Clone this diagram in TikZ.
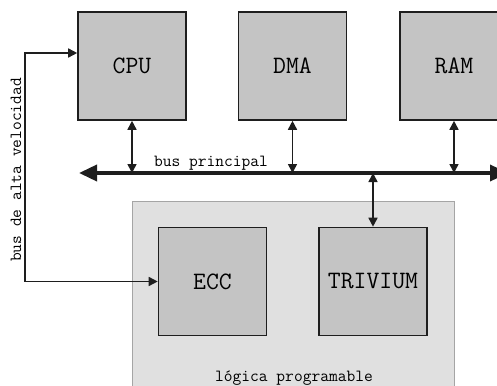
\documentclass[tikz,border=0pt]{standalone}
\usepackage{fontspec}
\usetikzlibrary{arrows.meta}

\definecolor{grisbloque}{RGB}{196,196,196}
\definecolor{grisfpga}{RGB}{224,224,224}
\definecolor{bordefpga}{RGB}{165,165,165}
\definecolor{trazo}{RGB}{30,30,30}

\tikzset{
    bloque/.style={draw=trazo, line width=1.6pt, fill=grisbloque,
        minimum width=108pt, minimum height=108pt, inner sep=0pt,
        font=\ttfamily\fontsize{25}{25}\selectfont},
    flecha/.style={draw=trazo, line width=1.6pt,
        {Triangle[length=9pt,width=9pt]}-{Triangle[length=9pt,width=9pt]}},
    bus/.style={draw=trazo, line width=3.6pt,
        {Triangle[length=18pt,width=16pt]}-{Triangle[length=18pt,width=16pt]}},
    rotulo/.style={font=\ttfamily\fontsize{17}{17}\selectfont, inner sep=1pt}
}

\begin{document}
\begin{tikzpicture}[x=1pt, y=-1pt]
    \useasboundingbox (0,0) rectangle (497,385);

    % logica programable
    \node[draw=bordefpga, line width=1pt, fill=grisfpga, minimum width=322pt,
        minimum height=200pt, inner sep=0pt] (fpga) at (293,301) {};
    \node[rotulo] (lfpga) at (294,378) {lógica programable};

    % bloques
    \node[bloque] (cpu) at (132,66) {CPU};
    \node[bloque] (dma) at (292.5,66) {DMA};
    \node[bloque] (ram) at (454,66) {RAM};
    \node[bloque] (ecc) at (212.5,281.5) {ECC};
    \node[bloque] (trivium) at (373,281.5) {TRIVIUM};

    % bus principal
    \coordinate (busL) at (79,173);
    \coordinate (busR) at (508,173);
    \draw[bus] (busL) -- (busR);
    \node[rotulo, anchor=south] (lbus) at (211,171) {bus principal};

    \draw[flecha] (cpu.south) -- (cpu.south |- busL);
    \draw[flecha] (dma.south) -- (dma.south |- busL);
    \draw[flecha] (ram.south) -- (ram.south |- busL);
    \draw[flecha] (trivium.north |- busL) -- (trivium.north);

    % bus de alta velocidad
    \coordinate (esq) at (25,281.5);
    \draw[flecha] ([yshift=13pt]cpu.west) -| (esq) -- (ecc.west);
    \node[rotulo, rotate=90] (lalta) at (16,170) {bus de alta velocidad};
\end{tikzpicture}
\end{document}
